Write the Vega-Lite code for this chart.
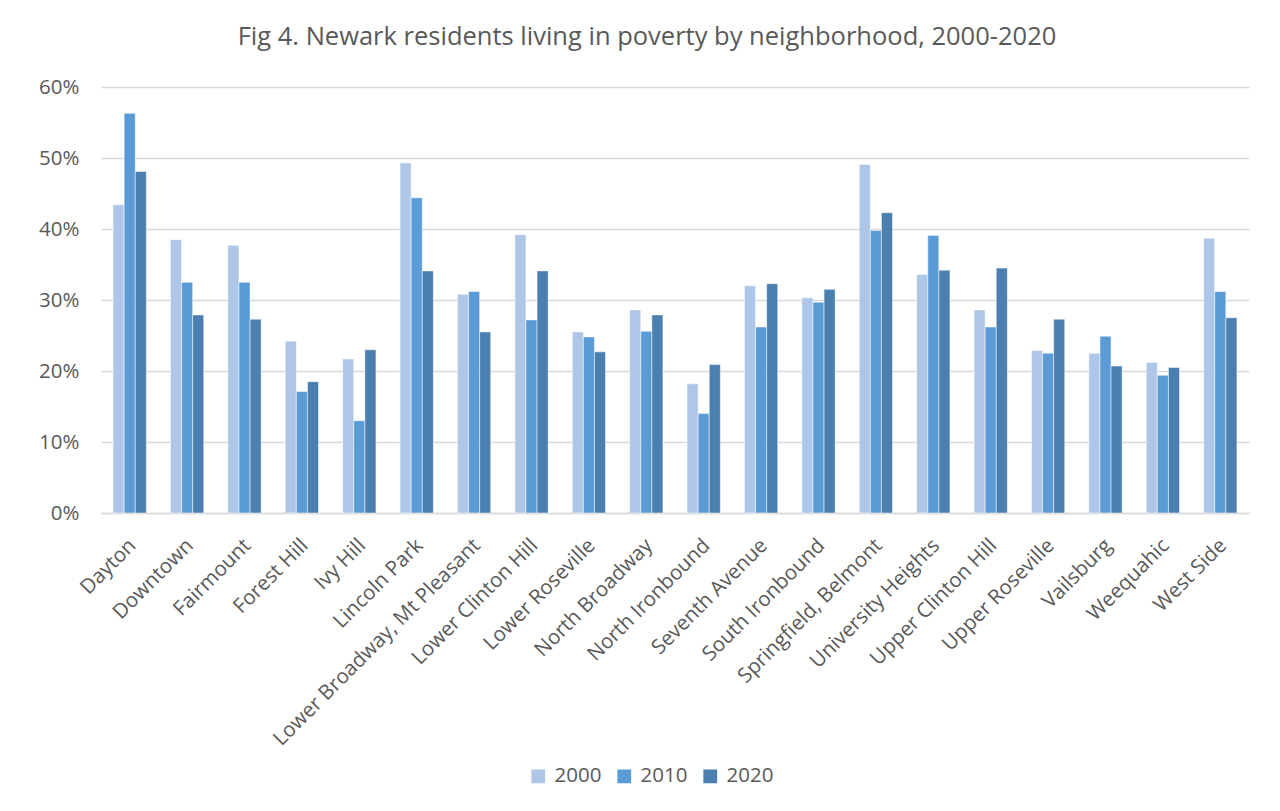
{
  "$schema": "https://vega.github.io/schema/vega-lite/v6.json",
  "width": 1148,
  "height": 426,
  "autosize": {"type": "none"},
  "padding": {"left": 101, "top": 87, "right": 31, "bottom": 298},
  "background": "white",
  "title": {
    "text": "Fig 4. Newark residents living in poverty by neighborhood, 2000-2020",
    "font": "Open Sans",
    "fontSize": 25.5,
    "fontWeight": "normal",
    "color": "#595959",
    "anchor": "middle",
    "dx": -28,
    "offset": 27
  },
  "config": {
    "view": {"stroke": null},
    "font": "Open Sans"
  },
  "data": {
    "values": [
      {"n": "Dayton", "y": "2000", "v": 0.434}, {"n": "Dayton", "y": "2010", "v": 0.563}, {"n": "Dayton", "y": "2020", "v": 0.481},
      {"n": "Downtown", "y": "2000", "v": 0.385}, {"n": "Downtown", "y": "2010", "v": 0.325}, {"n": "Downtown", "y": "2020", "v": 0.279},
      {"n": "Fairmount", "y": "2000", "v": 0.377}, {"n": "Fairmount", "y": "2010", "v": 0.325}, {"n": "Fairmount", "y": "2020", "v": 0.273},
      {"n": "Forest Hill", "y": "2000", "v": 0.242}, {"n": "Forest Hill", "y": "2010", "v": 0.171}, {"n": "Forest Hill", "y": "2020", "v": 0.185},
      {"n": "Ivy Hill", "y": "2000", "v": 0.217}, {"n": "Ivy Hill", "y": "2010", "v": 0.130}, {"n": "Ivy Hill", "y": "2020", "v": 0.230},
      {"n": "Lincoln Park", "y": "2000", "v": 0.493}, {"n": "Lincoln Park", "y": "2010", "v": 0.444}, {"n": "Lincoln Park", "y": "2020", "v": 0.341},
      {"n": "Lower Broadway, Mt Pleasant", "y": "2000", "v": 0.308}, {"n": "Lower Broadway, Mt Pleasant", "y": "2010", "v": 0.312}, {"n": "Lower Broadway, Mt Pleasant", "y": "2020", "v": 0.255},
      {"n": "Lower Clinton Hill", "y": "2000", "v": 0.392}, {"n": "Lower Clinton Hill", "y": "2010", "v": 0.272}, {"n": "Lower Clinton Hill", "y": "2020", "v": 0.341},
      {"n": "Lower Roseville", "y": "2000", "v": 0.255}, {"n": "Lower Roseville", "y": "2010", "v": 0.248}, {"n": "Lower Roseville", "y": "2020", "v": 0.227},
      {"n": "North Broadway", "y": "2000", "v": 0.286}, {"n": "North Broadway", "y": "2010", "v": 0.256}, {"n": "North Broadway", "y": "2020", "v": 0.279},
      {"n": "North Ironbound", "y": "2000", "v": 0.182}, {"n": "North Ironbound", "y": "2010", "v": 0.140}, {"n": "North Ironbound", "y": "2020", "v": 0.209},
      {"n": "Seventh Avenue", "y": "2000", "v": 0.320}, {"n": "Seventh Avenue", "y": "2010", "v": 0.262}, {"n": "Seventh Avenue", "y": "2020", "v": 0.323},
      {"n": "South Ironbound", "y": "2000", "v": 0.303}, {"n": "South Ironbound", "y": "2010", "v": 0.297}, {"n": "South Ironbound", "y": "2020", "v": 0.315},
      {"n": "Springfield, Belmont", "y": "2000", "v": 0.491}, {"n": "Springfield, Belmont", "y": "2010", "v": 0.398}, {"n": "Springfield, Belmont", "y": "2020", "v": 0.423},
      {"n": "University Heights", "y": "2000", "v": 0.336}, {"n": "University Heights", "y": "2010", "v": 0.391}, {"n": "University Heights", "y": "2020", "v": 0.342},
      {"n": "Upper Clinton Hill", "y": "2000", "v": 0.286}, {"n": "Upper Clinton Hill", "y": "2010", "v": 0.262}, {"n": "Upper Clinton Hill", "y": "2020", "v": 0.345},
      {"n": "Upper Roseville", "y": "2000", "v": 0.229}, {"n": "Upper Roseville", "y": "2010", "v": 0.225}, {"n": "Upper Roseville", "y": "2020", "v": 0.273},
      {"n": "Vailsburg", "y": "2000", "v": 0.225}, {"n": "Vailsburg", "y": "2010", "v": 0.249}, {"n": "Vailsburg", "y": "2020", "v": 0.207},
      {"n": "Weequahic", "y": "2000", "v": 0.212}, {"n": "Weequahic", "y": "2010", "v": 0.194}, {"n": "Weequahic", "y": "2020", "v": 0.205},
      {"n": "West Side", "y": "2000", "v": 0.387}, {"n": "West Side", "y": "2010", "v": 0.312}, {"n": "West Side", "y": "2020", "v": 0.275}
    ]
  },
  "mark": {"type": "bar", "stroke": "white", "strokeWidth": 0.5},
  "encoding": {
    "x": {
      "field": "n",
      "type": "nominal",
      "sort": null,
      "title": null,
      "scale": {"paddingInner": 0.42, "paddingOuter": 0.21},
      "axis": {
        "labelAngle": -45,
        "labelFont": "Open Sans",
        "labelFontSize": 20.5,
        "labelColor": "#595959",
        "labelPadding": 22,
        "labelOffset": -4,
        "ticks": false,
        "domainColor": "#d9d9d9",
        "domainWidth": 1.5,
        "labelLimit": 400
      }
    },
    "xOffset": {"field": "y", "type": "nominal", "scale": {"paddingInner": 0, "paddingOuter": 0}},
    "y": {
      "field": "v",
      "type": "quantitative",
      "title": null,
      "scale": {"domain": [0, 0.6], "nice": false},
      "axis": {
        "format": ".0%",
        "values": [0, 0.1, 0.2, 0.3, 0.4, 0.5, 0.6],
        "labelFont": "Open Sans",
        "labelFontSize": 20.5,
        "labelColor": "#595959",
        "labelPadding": 22,
        "ticks": false,
        "domain": false,
        "gridColor": "#d9d9d9",
        "gridWidth": 1.5
      }
    },
    "color": {
      "field": "y",
      "type": "nominal",
      "title": null,
      "scale": {"domain": ["2000", "2010", "2020"], "range": ["#aec6e7", "#5b9bd5", "#4a7fb0"]},
      "legend": {
        "orient": "none",
        "direction": "horizontal",
        "legendX": 427,
        "legendY": 679,
        "symbolType": "square",
        "symbolSize": 190,
        "symbolStrokeWidth": 0,
        "labelFont": "Open Sans",
        "labelFontSize": 20.5,
        "labelColor": "#595959",
        "labelOffset": 6,
        "columnPadding": 12
      }
    }
  }
}
